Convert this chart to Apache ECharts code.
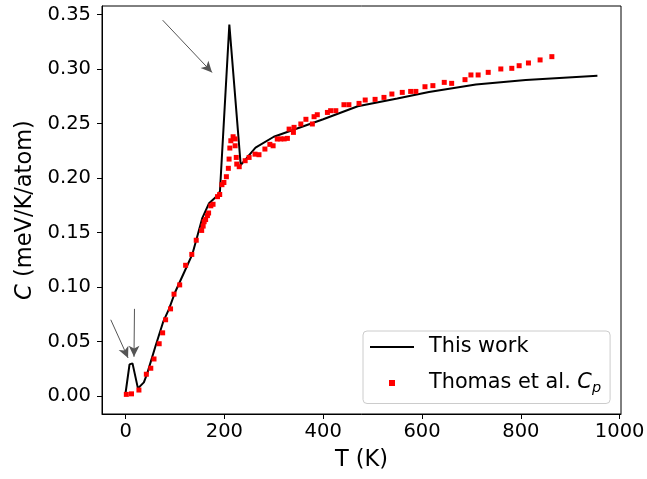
<!DOCTYPE html>
<html>
<head>
<meta charset="utf-8">
<script src="https://cdn.jsdelivr.net/npm/echarts@6/dist/echarts.min.js"></script>
<style>
html,body{margin:0;padding:0;background:#fff;}
#chart{width:647px;height:479px;}
</style>
</head>
<body>
<div id="chart"></div>
<script>
// "This work" curve
const workT = [0, 8, 14, 25, 37, 44, 60, 76, 88, 100, 120, 135, 155, 169, 186, 191, 210, 233, 263, 300, 350, 400, 470, 550, 614, 709, 810, 955];
const workC = [0.003, 0.029, 0.030, 0.007, 0.0125, 0.021, 0.045, 0.068, 0.080, 0.095, 0.115, 0.130, 0.163, 0.177, 0.184, 0.188, 0.341, 0.212, 0.228, 0.238, 0.246, 0.254, 0.266, 0.273, 0.279, 0.286, 0.290, 0.294];

// Thomas et al. Cp measurements
const expT = [1.5, 12, 27, 42, 51, 57.5, 68, 75, 81, 91, 98, 109.5, 121.5, 134, 143, 154, 157, 159, 162, 165.6, 168, 172.5, 177, 186, 190.5, 195, 199, 204, 208, 209.5, 211, 213, 217.6, 221.7, 221.7, 224, 225, 230, 242, 250, 262, 270, 282, 292, 298.6, 307, 314, 321, 327.5, 331, 339.7, 341, 354.7, 365, 378, 381.5, 388, 408.5, 415, 425.5, 442, 452, 472.5, 485, 505, 523, 539, 560, 577, 587.5, 606, 622, 645, 660, 687, 699, 713.6, 734, 759.5, 781.7, 796.6, 815.4, 839, 862.8];
const expC = [0.0015, 0.002, 0.0055, 0.020, 0.0255, 0.034, 0.048, 0.058, 0.070, 0.080, 0.0935, 0.102, 0.120, 0.130, 0.143, 0.152, 0.156, 0.160, 0.162, 0.1656, 0.168, 0.1746, 0.176, 0.183, 0.185, 0.194, 0.196, 0.2013, 0.209, 0.2175, 0.2276, 0.2343, 0.238, 0.236, 0.2297, 0.219, 0.2129, 0.2105, 0.216, 0.219, 0.222, 0.2215, 0.2267, 0.231, 0.2297, 0.2359, 0.236, 0.236, 0.2365, 0.245, 0.242, 0.2466, 0.2497, 0.254, 0.2497, 0.2564, 0.2582, 0.2603, 0.2619, 0.2619, 0.2674, 0.2674, 0.2686, 0.2717, 0.2723, 0.2741, 0.2772, 0.2787, 0.2796, 0.2796, 0.2839, 0.2849, 0.2879, 0.287, 0.2904, 0.2947, 0.2947, 0.2971, 0.3002, 0.3008, 0.3032, 0.3057, 0.3085, 0.3115];

// Tick labels
const xTicks = [0, 200, 400, 600, 800, 1000];
const yTicks = [0.00, 0.05, 0.10, 0.15, 0.20, 0.25, 0.30, 0.35];

// Arrow annotations: [from, to] in data coordinates
const arrows = [
  [[-30, 0.070], [5, 0.035]],
  [[18, 0.080], [17, 0.036]],
  [[75, 0.345], [175, 0.297]]
];

const FONT = 'DejaVu Sans';
const workData = workT.map((t, i) => [t, workC[i]]);
const expData = expT.map((t, i) => [t, expC[i]]);

const chart = echarts.init(document.getElementById('chart'), null, {renderer: 'canvas'});
chart.setOption({
  animation: false,
  backgroundColor: '#fff',
  textStyle: {fontFamily: FONT, color: '#000'},
  grid: {
    left: 102, top: 6, right: 26, bottom: 65,
    show: true, borderColor: '#000', borderWidth: 1,
    backgroundColor: 'transparent',
    containLabel: false, outerBoundsMode: 'none'
  },
  xAxis: {
    type: 'value', min: -47.75, max: 1002.75,
    name: 'T (K)', nameLocation: 'middle', nameGap: 35,
    nameTextStyle: {fontSize: 22.5, color: '#000', fontFamily: FONT},
    axisLine: {show: true, onZero: false, lineStyle: {color: '#000', width: 1}},
    axisTick: {show: true, length: 5, customValues: xTicks, lineStyle: {color: '#000', width: 1}},
    axisLabel: {customValues: xTicks, fontSize: 19.5, color: '#000', fontFamily: FONT, margin: 8, formatter: v => String(v)},
    splitLine: {show: false}
  },
  yAxis: {
    type: 'value', min: -0.0165, max: 0.358,
    name: '{i|C} (meV/K/atom)', nameLocation: 'middle', nameGap: 64, nameRotate: 90,
    nameTextStyle: {fontSize: 22.5, color: '#000', fontFamily: FONT,
      rich: {i: {fontSize: 22.5, fontStyle: 'italic', color: '#000', fontFamily: FONT}}},
    axisLine: {show: true, onZero: false, lineStyle: {color: '#000', width: 1}},
    axisTick: {show: true, length: 5, customValues: yTicks, lineStyle: {color: '#000', width: 1}},
    axisLabel: {customValues: yTicks, fontSize: 19.5, color: '#000', fontFamily: FONT, margin: 11, formatter: v => v.toFixed(2)},
    splitLine: {show: false}
  },
  legend: {
    orient: 'vertical', left: 363, top: 331,
    padding: [4, 9, 8, 7],
    itemWidth: 44, itemHeight: 6, itemGap: 12,
    backgroundColor: '#fff', borderColor: '#cccccc', borderWidth: 1, borderRadius: 4,
    textStyle: {fontSize: 20.8, color: '#000', fontFamily: FONT, lineHeight: 24, padding: [0, 0, 0, 10],
      rich: {
        i: {fontSize: 20.8, fontStyle: 'italic', color: '#000', fontFamily: FONT},
        s: {fontSize: 14.5, fontStyle: 'italic', color: '#000', fontFamily: FONT, padding: [10, 0, 0, 0]}
      }},
    formatter: n => n === 'This work' ? n : 'Thomas et al. {i|C}{s|p}',
    data: [
      {name: 'This work', icon: 'path://M0,0h44v2h-44z'},
      {name: 'Thomas et al. Cp', icon: 'path://M0,0h10v10h-10z'}
    ]
  },
  series: [
    {
      name: 'This work', type: 'line', data: workData,
      symbol: 'none', showSymbol: false,
      lineStyle: {color: '#000', width: 2}, itemStyle: {color: '#000'},
      z: 2,
      markLine: {
        silent: true, symbol: ['none', 'arrow'], symbolSize: [8, 11],
        label: {show: false},
        lineStyle: {color: '#555', width: 1, type: 'solid'},
        emphasis: {disabled: true},
        data: arrows.map(a => [{coord: a[0]}, {coord: a[1]}])
      }
    },
    {
      name: 'Thomas et al. Cp', type: 'scatter', data: expData,
      symbol: 'rect', symbolSize: 5,
      itemStyle: {color: '#ff0000', opacity: 1}, z: 3
    }
  ]
});
</script>
</body>
</html>
